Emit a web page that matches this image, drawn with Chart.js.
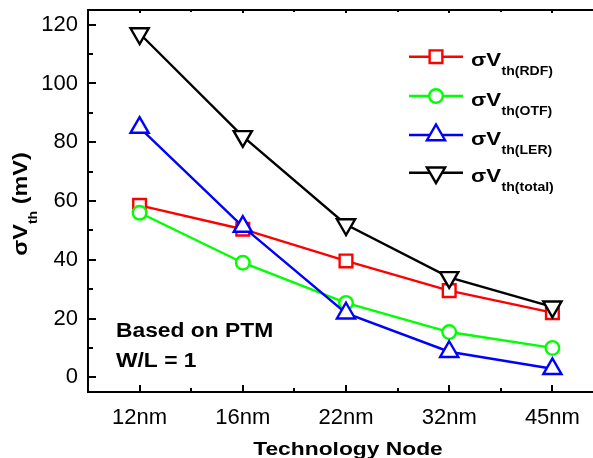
<!DOCTYPE html>
<html><head><meta charset="utf-8">
<script src="https://cdn.jsdelivr.net/npm/chart.js@4/dist/chart.umd.min.js"></script>
<style>
html,body{margin:0;padding:0;background:#fff;overflow:hidden;width:593px;height:458px}
#wrap{position:relative;width:604px;height:458px}
canvas{display:block}
</style>
</head><body><div id="wrap"><canvas id="c" width="604" height="458" style="width:604px;height:458px"></canvas></div>
<script>
// ---- data ----
const categories = ['12nm', '16nm', '22nm', '32nm', '45nm'];
const rdf   = [58.5, 50.4, 39.6, 29.5, 22];
const otf   = [56, 39, 25.3, 15.4, 10];
const ler   = [85, 51.3, 21.8, 8.7, 2.9];
const total = [117, 82, 52, 34, 24];
const seriesNames = ['RDF', 'OTF', 'LER', 'total'];
const yTicks = [0, 20, 40, 60, 80, 100, 120];
const yMinor = [10, 30, 50, 70, 90, 110];
const note = ['Based on PTM', 'W/L = 1'];

const FONT = "'Liberation Sans', Arial, sans-serif";
const LW = 2.4;
const colors = ['#ff0000', '#00ff00', '#0000ff', '#000000'];
const styles = [
  {pointStyle: 'rect', rotation: 0, radius: 9},
  {pointStyle: 'circle', rotation: 0, radius: 6.8},
  {pointStyle: 'triangle', rotation: 0, radius: 10.5},
  {pointStyle: 'triangle', rotation: 180, radius: 10.5}
];
const seriesData = [rdf, otf, ler, total];

function stretchText(ctx, text, x, y, font, sx) {
  ctx.save();
  ctx.font = font;
  const w = ctx.measureText(text).width;
  ctx.translate(x, y);
  ctx.scale(sx, 1);
  ctx.textAlign = 'left';
  ctx.textBaseline = 'alphabetic';
  ctx.fillText(text, 0, 0);
  ctx.restore();
  return w * sx;
}
function measure(ctx, text, font) { ctx.save(); ctx.font = font; const w = ctx.measureText(text).width; ctx.restore(); return w; }

function drawMarker(ctx, st, x, y, color) {
  ctx.save();
  ctx.strokeStyle = color; ctx.fillStyle = '#fff'; ctx.lineWidth = LW;
  Chart.helpers.drawPoint(ctx, {pointStyle: st.pointStyle, rotation: st.rotation, radius: st.radius, borderWidth: LW}, x, y);
  ctx.restore();
}

const SX = 1.17;
const framePlugin = {
  id: 'frameAndText',
  afterDraw(chart) {
    const ctx = chart.ctx;
    const a = chart.chartArea;
    const xs = chart.scales.x, ys = chart.scales.y;
    ctx.save();
    ctx.strokeStyle = '#000';
    ctx.lineWidth = 2;
    ctx.strokeRect(a.left, a.top, a.right - a.left, a.bottom - a.top);
    ctx.beginPath();
    // y ticks (inward)
    yTicks.forEach(v => { const p = Math.round(ys.getPixelForValue(v)); ctx.moveTo(a.left, p); ctx.lineTo(a.left + 8, p); });
    yMinor.forEach(v => { const p = Math.round(ys.getPixelForValue(v)); ctx.moveTo(a.left, p); ctx.lineTo(a.left + 5, p); });
    // x ticks
    categories.forEach((c, i) => {
      const p = Math.round(xs.getPixelForValue(i));
      ctx.moveTo(p, a.bottom); ctx.lineTo(p, a.bottom - 7);
      ctx.moveTo(p, a.top); ctx.lineTo(p, a.top + 3);
      if (i < categories.length - 1) {
        const m = Math.round((xs.getPixelForValue(i) + xs.getPixelForValue(i + 1)) / 2);
        ctx.moveTo(m, a.bottom); ctx.lineTo(m, a.bottom - 4);
        ctx.moveTo(m, a.top); ctx.lineTo(m, a.top + 2);
      }
    });
    ctx.stroke();
    ctx.restore();

    // legend
    ctx.save();
    ctx.fillStyle = '#000';
    const rowY = [56.7, 96, 135, 172.7];
    seriesNames.forEach((n, i) => {
      const y = rowY[i];
      ctx.save();
      ctx.strokeStyle = colors[i]; ctx.lineWidth = LW;
      ctx.beginPath(); ctx.moveTo(409, y); ctx.lineTo(463, y); ctx.stroke();
      ctx.restore();
      drawMarker(ctx, styles[i], 436, y, colors[i]);
      const w = stretchText(ctx, 'σV', 471, y + 9.5, 'bold 19px ' + FONT, SX);
      stretchText(ctx, 'th(' + n + ')', 471 + w + 0.5, y + 18.5, 'bold 12px ' + FONT, SX);
    });

    // note
    stretchText(ctx, note[0], 116, 337, 'bold 19.5px ' + FONT, SX);
    stretchText(ctx, note[1], 116, 367, 'bold 19.5px ' + FONT, SX);

    // x title
    const xt = 'Technology Node';
    const xf = 'bold 19px ' + FONT;
    const xw = measure(ctx, xt, xf) * 1.2;
    stretchText(ctx, xt, 348 - xw / 2, 455, xf, 1.2);

    // y title (rotated)
    ctx.save();
    ctx.translate(27, 204);
    ctx.rotate(-Math.PI / 2);
    const f1 = 'bold 20px ' + FONT, f2 = 'bold 12px ' + FONT;
    const tw = (measure(ctx, 'σV', f1) + measure(ctx, 'th', f2) + measure(ctx, ' (mV)', f1)) * SX;
    let x0 = -tw / 2;
    x0 += stretchText(ctx, 'σV', x0, 0, f1, SX);
    x0 += stretchText(ctx, 'th', x0, 10, f2, SX);
    stretchText(ctx, ' (mV)', x0, 0, f1, SX);
    ctx.restore();
    ctx.restore();
  }
};

const datasets = seriesNames.map((n, i) => ({
  label: n,
  data: seriesData[i],
  borderColor: colors[i],
  backgroundColor: '#fff',
  pointBorderColor: colors[i],
  pointBackgroundColor: '#fff',
  pointStyle: styles[i].pointStyle,
  pointRotation: styles[i].rotation,
  pointRadius: styles[i].radius,
  pointHoverRadius: styles[i].radius,
  pointBorderWidth: LW,
  borderWidth: LW,
  tension: 0,
  order: 3 - i
}));

new Chart(document.getElementById('c'), {
  type: 'line',
  data: {labels: categories, datasets},
  options: {
    responsive: false,
    animation: false,
    devicePixelRatio: 1,
    events: [],
    layout: {autoPadding: false, padding: {top: 10, right: 0, left: 0, bottom: 0}},
    plugins: {legend: {display: false}, tooltip: {enabled: false}},
    scales: {
      x: {
        type: 'category', offset: true,
        grid: {display: false, drawTicks: false}, border: {display: false},
        ticks: {color: '#000', font: {family: FONT, size: 22}, padding: 13, maxRotation: 0},
        afterFit(s) { s.height = 66; s.paddingLeft = 0; s.paddingRight = 0; }
      },
      y: {
        min: -5, max: 125,
        grid: {display: false, drawTicks: false}, border: {display: false},
        afterBuildTicks(s) { s.ticks = yTicks.map(v => ({value: v})); },
        ticks: {color: '#000', font: {family: FONT, size: 22}, padding: 10},
        afterFit(s) { s.width = 88; s.paddingTop = 0; s.paddingBottom = 0; }
      }
    }
  },
  plugins: [framePlugin]
});
</script>
</body></html>
